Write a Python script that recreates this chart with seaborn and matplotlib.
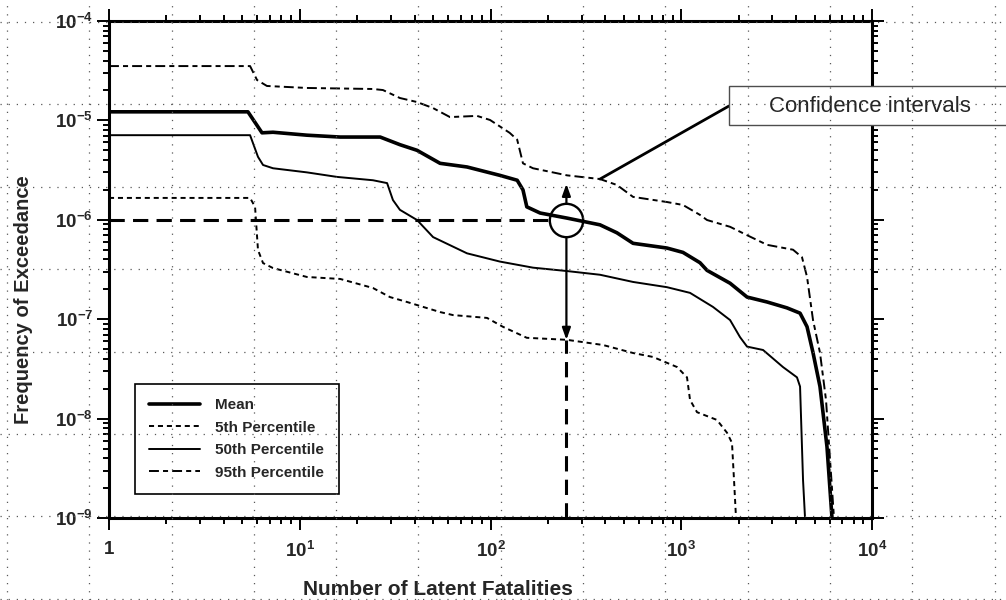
import numpy as np
import pandas as pd
import matplotlib
matplotlib.use("Agg")
import matplotlib.pyplot as plt
import seaborn as sns
from matplotlib.patches import Rectangle
from matplotlib.ticker import LogLocator, NullFormatter

# curve data (x = latent fatalities, y = frequency of exceedance)
mean_x = [1, 5.35, 6.34, 7.24, 10.9, 16.3, 26.4, 33.5, 41.2, 54.4, 75.3, 112, 138, 148, 155,
          182, 252, 375, 460, 559, 841, 1021, 1254, 1365, 1803, 2213, 2818, 3583, 4196, 4565,
          4907, 5337, 5808, 6170]
mean_y = [1.22e-5, 1.22e-5, 7.5e-6, 7.6e-6, 7.1e-6, 6.8e-6, 6.8e-6, 5.7e-6, 5.0e-6, 3.7e-6,
          3.4e-6, 2.8e-6, 2.5e-6, 2.0e-6, 1.35e-6, 1.17e-6, 1.04e-6, 8.9e-7, 7.4e-7, 5.8e-7,
          5.2e-7, 4.7e-7, 3.7e-7, 3.1e-7, 2.3e-7, 1.67e-7, 1.49e-7, 1.30e-7, 1.15e-7, 8.4e-8,
          4.6e-8, 2.1e-8, 5.2e-9, 1e-9]

p5_x = [1, 5.49, 5.83, 6.04, 6.42, 7.24, 10.9, 16.3, 24.2, 29.7, 36.5, 44.3, 54.4, 63.6, 95.9,
        116, 155, 252, 389, 559, 711, 951, 1072, 1112, 1210, 1538, 1738, 1845, 1891, 1937]
p5_y = [1.66e-6, 1.66e-6, 1.35e-6, 4.97e-7, 3.67e-7, 3.27e-7, 2.66e-7, 2.54e-7, 2.06e-7,
        1.67e-7, 1.49e-7, 1.33e-7, 1.18e-7, 1.10e-7, 1.03e-7, 8.4e-8, 6.5e-8, 6.2e-8, 5.5e-8,
        4.57e-8, 4.17e-8, 3.3e-8, 2.6e-8, 1.54e-8, 1.16e-8, 9.7e-9, 7.2e-9, 5.7e-9, 2.4e-9, 1e-9]

p50_x = [1, 5.49, 6.04, 6.42, 7.24, 10.9, 15.7, 24.2, 28.7, 30.8, 33.5, 41.2, 50, 75.3, 112,
         167, 252, 375, 559, 841, 1112, 1466, 1803, 2033, 2213, 2685, 3415, 4043, 4196, 4350, 4456]
p50_y = [7.1e-6, 7.1e-6, 4.3e-6, 3.56e-6, 3.3e-6, 3.0e-6, 2.7e-6, 2.5e-6, 2.34e-6, 1.58e-6,
         1.26e-6, 9.95e-7, 6.7e-7, 4.6e-7, 3.8e-7, 3.3e-7, 3.05e-7, 2.8e-7, 2.37e-7, 2.1e-7,
         1.84e-7, 1.33e-7, 9.8e-8, 6.6e-8, 5.3e-8, 4.9e-8, 3.3e-8, 2.6e-8, 2.1e-8, 2.4e-9, 1e-9]

p95_x = [1, 5.49, 5.97, 6.73, 10.9, 24.2, 27.3, 33.5, 41.2, 50, 61.3, 85, 99.4, 126, 138, 148,
         167, 252, 375, 460, 559, 841, 1021, 1254, 1365, 1803, 2213, 2818, 3855, 4296, 4565,
         4907, 5337, 5740, 6320]
p95_y = [3.52e-5, 3.52e-5, 2.55e-5, 2.22e-5, 2.12e-5, 2.07e-5, 2.02e-5, 1.68e-5, 1.53e-5,
         1.33e-5, 1.08e-5, 1.11e-5, 1.01e-5, 7.5e-6, 6.4e-6, 3.7e-6, 3.3e-6, 2.8e-6, 2.57e-6,
         2.24e-6, 1.7e-6, 1.51e-6, 1.41e-6, 1.12e-6, 9.95e-7, 8.5e-7, 7.0e-7, 5.6e-7, 5.0e-7,
         4.2e-7, 2.66e-7, 9.8e-8, 4.6e-8, 1.54e-8, 1e-9]

series_names = ["Mean", "5th Percentile", "50th Percentile", "95th Percentile"]

x_ticks = [1, 10, 100, 1000, 10000]
x_tick_labels = ["1", "$10^{1}$", "$10^{2}$", "$10^{3}$", "$10^{4}$"]
y_ticks = [1e-9, 1e-8, 1e-7, 1e-6, 1e-5, 1e-4]
y_tick_labels = ["$10^{-9}$", "$10^{-8}$", "$10^{-7}$", "$10^{-6}$", "$10^{-5}$", "$10^{-4}$"]

# reference point marked with the circle, and the confidence interval at it
ref_x = 250
ref_y = 1e-6
ci_upper = 2.3e-6
ci_lower = 6.2e-8
pointer_x = 375
pointer_y = 2.57e-6

df = pd.concat([
    pd.DataFrame({"x": mean_x, "y": mean_y, "series": "Mean"}),
    pd.DataFrame({"x": p5_x, "y": p5_y, "series": "5th Percentile"}),
    pd.DataFrame({"x": p50_x, "y": p50_y, "series": "50th Percentile"}),
    pd.DataFrame({"x": p95_x, "y": p95_y, "series": "95th Percentile"}),
])

sns.set_style("white")
plt.rcParams["font.family"] = ["Liberation Sans", "DejaVu Sans"]
plt.rcParams["mathtext.default"] = "regular"

fig = plt.figure(figsize=(10.06, 6), dpi=100)
ax = fig.add_axes([109/1006, 82/600, 763/1006, 497/600])
ax.set_facecolor("white")
ax.set_xscale("log")
ax.set_yscale("log")

styles = {
    "Mean": dict(lw=2.6, ls="-"),
    "5th Percentile": dict(lw=1.4, ls=(0, (2.6, 2.0))),
    "50th Percentile": dict(lw=1.4, ls="-"),
    "95th Percentile": dict(lw=1.4, ls=(0, (5.1, 2.1, 2.6, 2.1))),
}
for name in series_names:
    sub = df[df["series"] == name]
    sns.lineplot(data=sub, x="x", y="y", ax=ax, color="black", estimator=None,
                 sort=False, label=name, linewidth=styles[name]["lw"],
                 linestyle=styles[name]["ls"])

# reference lines, circle and interval arrows
ax.plot([1, 205], [ref_y, ref_y], color="black", lw=2.2, ls=(0, (5, 2.7)))
ax.plot([ref_x, ref_x], [1e-9, ci_lower], color="black", lw=2.2, ls=(0, (5, 2.7)))
ax.plot([ref_x], [ref_y], marker="o", ms=24, mfc="none", mec="black", mew=1.7)
ax.annotate("", xy=(ref_x, ci_upper), xytext=(ref_x, 1.48e-6),
            arrowprops=dict(arrowstyle="-|>,head_length=0.7,head_width=0.25",
                            color="black", lw=1.6, shrinkA=0, shrinkB=0))
ax.annotate("", xy=(ref_x, ci_lower), xytext=(ref_x, 6.7e-7),
            arrowprops=dict(arrowstyle="-|>,head_length=0.7,head_width=0.25",
                            color="black", lw=1.6, shrinkA=0, shrinkB=0))

ax.set_xlim(1, 1e4)
ax.set_ylim(1e-9, 1e-4)
ax.set_xticks(x_ticks, x_tick_labels, fontsize=13.5, fontweight="bold")
ax.set_yticks(y_ticks, y_tick_labels, fontsize=13.5, fontweight="bold")
ax.xaxis.set_minor_locator(LogLocator(subs=np.arange(2, 10), numticks=100))
ax.yaxis.set_minor_locator(LogLocator(subs=np.arange(2, 10), numticks=100))
ax.xaxis.set_minor_formatter(NullFormatter())
ax.yaxis.set_minor_formatter(NullFormatter())
ax.tick_params(which="both", direction="out", top=True, right=True, bottom=True, left=True,
               color="black", width=1.4)
ax.tick_params(which="major", length=8.5)
ax.tick_params(which="minor", length=4.5)
ax.tick_params(axis="x", which="major", pad=8)
ax.tick_params(axis="y", which="major", pad=3)
for sp in ax.spines.values():
    sp.set_visible(True)
    sp.set_color("black")
    sp.set_linewidth(2.2)

ax.set_xlabel("Number of Latent Fatalities", fontsize=15, fontweight="bold")
ax.set_ylabel("Frequency of Exceedance", fontsize=14.5, fontweight="bold")
ax.xaxis.set_label_coords(0.431, -0.124)
ax.yaxis.set_label_coords(-0.10, 0.44)

leg = ax.legend(loc="lower left", bbox_to_anchor=(0.034, 0.048), borderaxespad=0,
                frameon=True, fancybox=False, framealpha=1, edgecolor="black",
                prop=dict(size=11, weight="bold"), handlelength=3.3, handletextpad=1.0,
                labelspacing=0.55, borderpad=0.95)
leg.get_frame().set_linewidth(1.2)

# callout box
fig.add_artist(Rectangle((729/1006, 1 - 125/600), 290/1006, 39/600,
                         transform=fig.transFigure, facecolor="white",
                         edgecolor="0.3", lw=1.0, zorder=3))
fig.text(769/1006, 1 - 106/600, "Confidence intervals", fontsize=16, va="center",
         ha="left", zorder=4)
ax.annotate("", xy=(pointer_x, pointer_y), xycoords="data",
            xytext=(729/1006, 1 - 106/600), textcoords="figure fraction",
            arrowprops=dict(arrowstyle="-", color="black", lw=2, shrinkA=0, shrinkB=0))

# dotted slide grid over the whole picture
gax = fig.add_axes([0, 0, 1, 1], zorder=10)
gax.set_xlim(0, 1006)
gax.set_ylim(600, 0)
gax.axis("off")
gax.patch.set_alpha(0)
for gx in np.arange(7, 1006, 82.3):
    gax.axvline(gx, color="0.35", lw=0.9, ls=(0, (1, 5.5)))
for gy in np.arange(22, 600, 82.4):
    gax.axhline(gy, color="0.35", lw=0.9, ls=(0, (1, 5.5)))

fig.savefig("out.png", dpi=100)
